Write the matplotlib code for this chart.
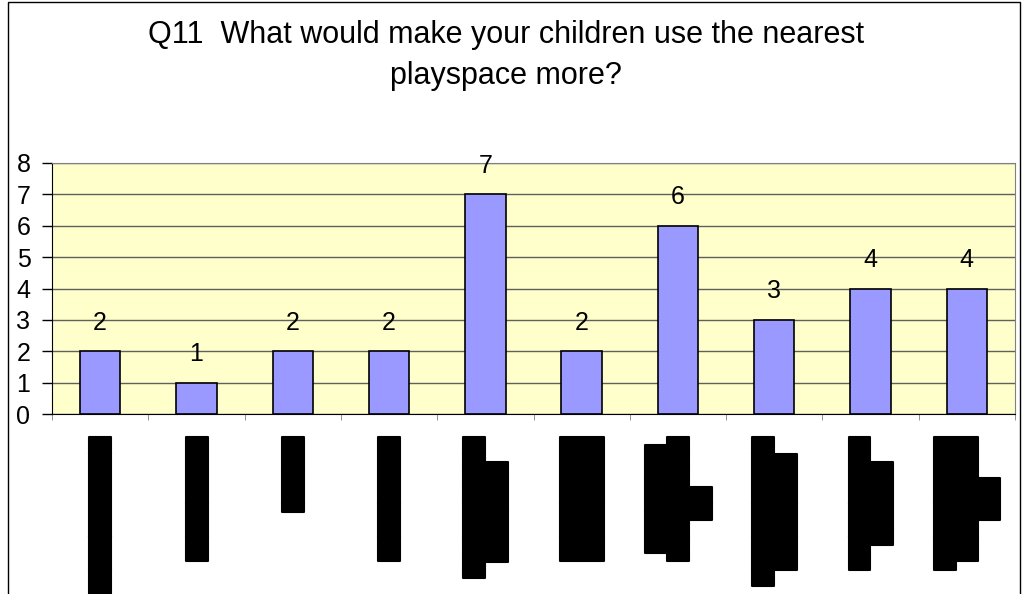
import matplotlib
matplotlib.use("Agg")
import matplotlib.pyplot as plt
import matplotlib.patheffects as pe
from matplotlib.patches import Rectangle

# ==========================================================
# Datos
# ==========================================================
TITLE = "Q11  What would make your children use the nearest\nplayspace more?"
values = [2, 1, 2, 2, 7, 2, 6, 3, 4, 4]
y_ticks = [0, 1, 2, 3, 4, 5, 6, 7, 8]
# the category labels are unreadable in the source (solid black blocks);
# each entry gives the length of every line of the label, in block characters
label_lines = [[10], [7.5], [4.5], [7.5], [8.5, 6], [7.5, 7.5], [6.5, 7.5, 2],
               [9, 7], [8, 5], [8, 7.5, 2.5]]


def block_line(n):
    # a half block first, so lines can end on half a character
    half = "\u2590" if n % 1 else ""
    return half + "\u2588" * int(n)


labels = ["\n".join(block_line(n) for n in lines) for lines in label_lines]

BAR_COLOR = "#9999FF"
BG_COLOR = "#FFFFCC"

plt.rcParams["font.family"] = ["Liberation Sans", "DejaVu Sans"]

fig = plt.figure(figsize=(10.24, 5.94), dpi=100)
ax = fig.add_axes([52 / 1024, 1 - 414 / 594, (1015 - 52) / 1024, (414 - 163) / 594])
ax.set_facecolor(BG_COLOR)

x = list(range(len(values)))
bars = ax.bar(x, values, width=0.42, color=BAR_COLOR, edgecolor="black",
              linewidth=1.2, zorder=3)
ax.bar_label(bars, labels=[str(v) for v in values], padding=12, fontsize=18)

ax.set_xlim(-0.5, len(values) - 0.5)
ax.set_ylim(0, 8)
ax.set_yticks(y_ticks)
ax.tick_params(axis="y", length=7.5, width=1, pad=8, labelsize=18)
ax.yaxis.grid(True, color="#606060", linewidth=1)
ax.set_axisbelow(True)

# etiquetas de categoría (bloques negros)
ax.set_xticks(x)
ax.set_xticklabels(labels, rotation=90, ha="center", va="top",
                   multialignment="center", fontfamily="DejaVu Sans",
                   fontsize=15.5, linespacing=1.0,
                   path_effects=[pe.withStroke(linewidth=1.5, foreground="black")])
ax.tick_params(axis="x", which="major", length=0, pad=17)
ax.set_xticks([i - 0.5 for i in range(len(values) + 1)], minor=True)
ax.tick_params(axis="x", which="minor", length=4, color="#808080")

for side in ["left", "bottom"]:
    ax.spines[side].set_color("black")
for side in ["top", "right"]:
    ax.spines[side].set_color("#808080")

fig.text(506 / 1024, 1 - 55.5 / 594, TITLE, ha="center", va="center",
         fontsize=22, linespacing=1.5)

# borde del área del gráfico
fig.patches.append(Rectangle((8 / 1024, -0.05), (1020 - 8) / 1024, 1.05 - 1.5 / 594,
                             transform=fig.transFigure, fill=False,
                             edgecolor="black", linewidth=1))

fig.savefig("out.png", dpi=100)
